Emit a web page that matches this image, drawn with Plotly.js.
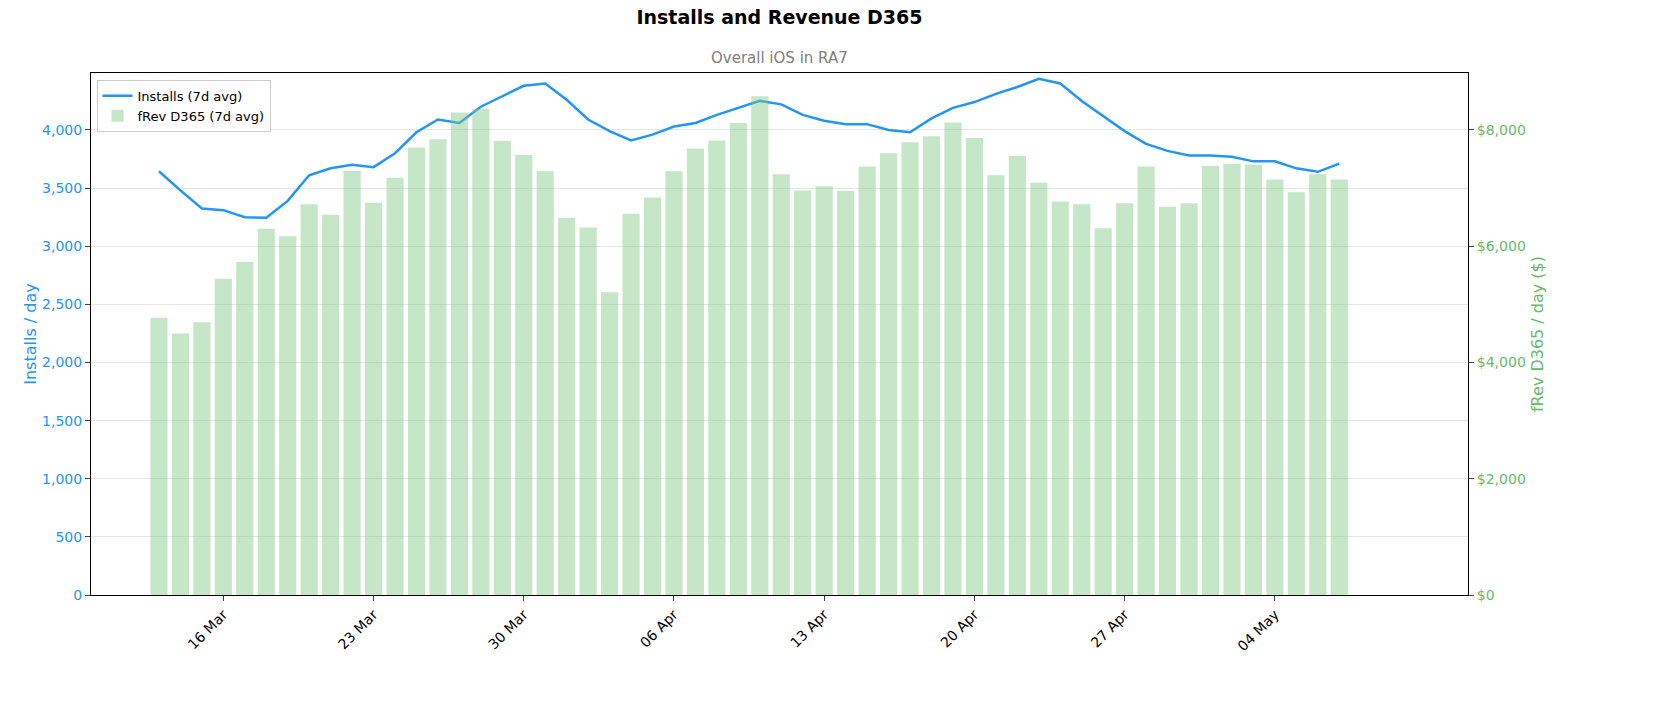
<!DOCTYPE html>
<html>
<head>
<script src="https://cdn.plot.ly/plotly-3.0.1.min.js"></script>
<style>body{margin:0;background:#fff}</style>
</head>
<body>
<div id="myDiv" style="width:1668px;height:712px"></div>
<script>
// daily dates, 13 Mar .. 7 May
var dates = [];
for (var d = 0; d < 56; d++) {
    var t = new Date(Date.UTC(2025, 2, 13 + d));
    dates.push(t.toISOString().slice(0, 10));
}

var installs = [3645,3480,3325,3310,3250,3245,3390,3610,3670,3700,3680,3800,3980,4090,4060,4200,4290,4380,4400,4260,
    4090,3990,3910,3960,4030,4060,4130,4190,4250,4220,4130,4080,4050,4050,4000,3980,4100,4190,4240,4310,
    4370,4440,4400,4250,4120,3990,3880,3820,3780,3780,3770,3730,3730,3670,3640,3710];

var revenue = [4770,4500,4690,5440,5730,6300,6170,6720,6540,7300,6750,7180,7700,7840,8300,8360,7810,7570,7290,6490,
    6320,5210,6560,6840,7290,7680,7820,8120,8580,7240,6960,7030,6950,7370,7600,7790,7890,8130,7860,7220,
    7550,7090,6770,6720,6310,6740,7370,6680,6740,7380,7420,7400,7150,6930,7240,7150];

var tickVals = ['2025-03-16','2025-03-23','2025-03-30','2025-04-06','2025-04-13','2025-04-20','2025-04-27','2025-05-04'];
var tickText = ['16 Mar','23 Mar','30 Mar','06 Apr','13 Apr','20 Apr','27 Apr','04 May'];

var bars = {
    x: dates, y: revenue, type: 'bar', yaxis: 'y2', name: 'fRev D365 (7d avg)',
    marker: {color: 'rgba(129,199,132,0.45)'}, width: 0.8 * 86400000
};
var line = {
    x: dates, y: installs, type: 'scatter', mode: 'lines', name: 'Installs (7d avg)',
    line: {color: '#2196f3', width: 2.5}
};

var layout = {
    width: 1668, height: 712,
    font: {family: 'DejaVu Sans', size: 14, color: '#000'},
    margin: {l: 91, r: 200, t: 73, b: 117},
    paper_bgcolor: '#fff', plot_bgcolor: '#fff',
    title: {text: '<b>Installs and Revenue D365</b>', x: 0.5, xref: 'paper', y: 0.985, yanchor: 'top', font: {size: 19}},
    annotations: [{text: 'Overall iOS in RA7', xref: 'paper', yref: 'paper', x: 0.5, y: 1.008, yanchor: 'bottom',
        showarrow: false, font: {size: 15, color: '#808080'}}],
    showlegend: true,
    legend: {x: 0.004, y: 0.987, xanchor: 'left', yanchor: 'top', bgcolor: 'rgba(255,255,255,0.8)',
        bordercolor: '#ccc', borderwidth: 1, font: {size: 13}, traceorder: 'normal'},
    xaxis: {
        type: 'date', range: ['2025-03-09T20:00', '2025-05-13'], tickvals: tickVals, ticktext: tickText,
        tickangle: -45, ticks: 'outside', showgrid: false, showline: true, linecolor: '#000', mirror: true,
        tickfont: {size: 14}
    },
    yaxis: {
        range: [0, 4490], dtick: 500, tickformat: ',d', showgrid: true, gridcolor: '#e6e6e6',
        ticks: 'outside', showline: true, linecolor: '#000', zeroline: false,
        tickfont: {color: '#2196f3', size: 14},
        title: {text: 'Installs / day', font: {color: '#2196f3', size: 16}}
    },
    yaxis2: {
        overlaying: 'y', side: 'right', range: [0, 8980], dtick: 2000, tickprefix: '$', tickformat: ',d',
        showgrid: false, ticks: 'outside', showline: true, linecolor: '#000', zeroline: false,
        tickfont: {color: '#66bb6a', size: 14},
        title: {text: 'fRev D365 / day ($)', font: {color: '#66bb6a', size: 16}}
    },
    bargap: 0.2
};

Plotly.newPlot('myDiv', [line, bars], layout, {displayModeBar: false});
</script>
</body>
</html>
